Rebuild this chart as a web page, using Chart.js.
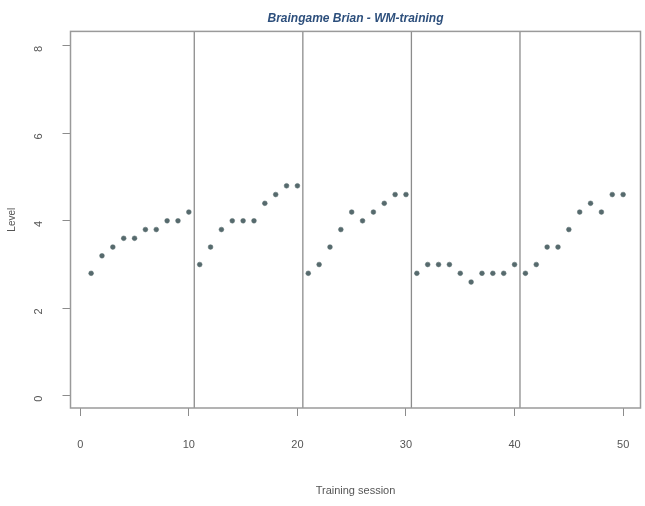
<!DOCTYPE html>
<html>
<head>
<meta charset="utf-8">
<script src="https://cdn.jsdelivr.net/npm/chart.js@4/dist/chart.umd.min.js"></script>
<style>
  html, body { margin: 0; padding: 0; background: #fff; }
  #wrap { width: 645px; height: 506px; }
</style>
</head>
<body>
<div id="wrap"><canvas id="wmChart" width="645" height="506"></canvas></div>
<script>
// Data
const sessions = [1, 2, 3, 4, 5, 6, 7, 8, 9, 10,
                  11, 12, 13, 14, 15, 16, 17, 18, 19, 20,
                  21, 22, 23, 24, 25, 26, 27, 28, 29, 30,
                  31, 32, 33, 34, 35, 36, 37, 38, 39, 40,
                  41, 42, 43, 44, 45, 46, 47, 48, 49, 50];
const levels = [2.8, 3.2, 3.4, 3.6, 3.6, 3.8, 3.8, 4.0, 4.0, 4.2,
                3.0, 3.4, 3.8, 4.0, 4.0, 4.0, 4.4, 4.6, 4.8, 4.8,
                2.8, 3.0, 3.4, 3.8, 4.2, 4.0, 4.2, 4.4, 4.6, 4.6,
                2.8, 3.0, 3.0, 3.0, 2.8, 2.6, 2.8, 2.8, 2.8, 3.0,
                2.8, 3.0, 3.4, 3.4, 3.8, 4.2, 4.4, 4.2, 4.6, 4.6];
const blockBreaks = [10.5, 20.5, 30.5, 40.5];
const xTicks = [0, 10, 20, 30, 40, 50];
const yTicks = [0, 2, 4, 6, 8];

const Y_MIN = -0.28, Y_MAX = 8.33;

// Box round the plot region
const boxPlugin = {
    id: 'box',
    afterDraw(chart) {
        const { ctx, chartArea: a } = chart;
        ctx.save();
        ctx.strokeStyle = '#9a9a9a';
        ctx.lineWidth = 1.5;
        ctx.strokeRect(a.left, a.top, a.right - a.left, a.bottom - a.top);
        ctx.restore();
    }
};

const datasets = [{
    label: 'Level',
    data: sessions.map((s, i) => ({ x: s, y: levels[i] })),
    pointRadius: 2.4,
    pointBackgroundColor: '#566a6d',
    pointBorderColor: '#566a6d',
    pointBorderWidth: 0.5,
    showLine: false
}];

blockBreaks.forEach(b => {
    datasets.push({
        label: 'break ' + b,
        data: [{ x: b, y: Y_MIN }, { x: b, y: Y_MAX }],
        showLine: true,
        borderColor: '#8c8c8c',
        borderWidth: 1.3,
        pointRadius: 0
    });
});

const ctx = document.getElementById('wmChart').getContext('2d');
const wmChart = new Chart(ctx, {
    type: 'scatter',
    data: { datasets },
    options: {
        responsive: false,
        animation: false,
        layout: { padding: { top: 1, right: 3, bottom: 0, left: 0 } },
        scales: {
            x: {
                type: 'linear',
                min: -0.9,
                max: 51.6,
                afterBuildTicks: scale => { scale.ticks = xTicks.map(v => ({ value: v })); },
                afterFit: scale => { scale.height = 98; scale.paddingLeft = 0; scale.paddingRight = 0; },
                grid: { drawOnChartArea: false, drawTicks: true, tickLength: 8, color: '#8c8c8c' },
                border: { display: false },
                ticks: { color: '#555', padding: 22, font: { family: 'Liberation Sans', size: 11 } },
                title: {
                    display: true,
                    text: 'Training session',
                    color: '#555',
                    padding: { top: 0, bottom: 8 },
                    font: { family: 'Liberation Sans', size: 11 }
                }
            },
            y: {
                type: 'linear',
                min: Y_MIN,
                max: Y_MAX,
                afterBuildTicks: scale => { scale.ticks = yTicks.map(v => ({ value: v })); },
                afterFit: scale => { scale.width = 70.5; },
                grid: { drawOnChartArea: false, drawTicks: true, tickLength: 8, color: '#8c8c8c' },
                border: { display: false },
                ticks: { color: '#555', padding: 24, minRotation: 90, maxRotation: 90, font: { family: 'Liberation Sans', size: 11 } },
                title: {
                    display: true,
                    text: 'Level',
                    color: '#555',
                    padding: { top: 6, bottom: 0 },
                    font: { family: 'Liberation Sans', size: 10 }
                }
            }
        },
        plugins: {
            legend: { display: false },
            tooltip: { enabled: false },
            title: {
                display: true,
                fullSize: false,
                text: 'Braingame Brian - WM-training',
                color: '#2d4f7c',
                padding: { top: 10, bottom: 6 },
                font: { family: 'Liberation Sans', size: 12, weight: 'bold', style: 'italic', lineHeight: 1.2 }
            }
        }
    },
    plugins: [boxPlugin]
});
</script>
</body>
</html>
